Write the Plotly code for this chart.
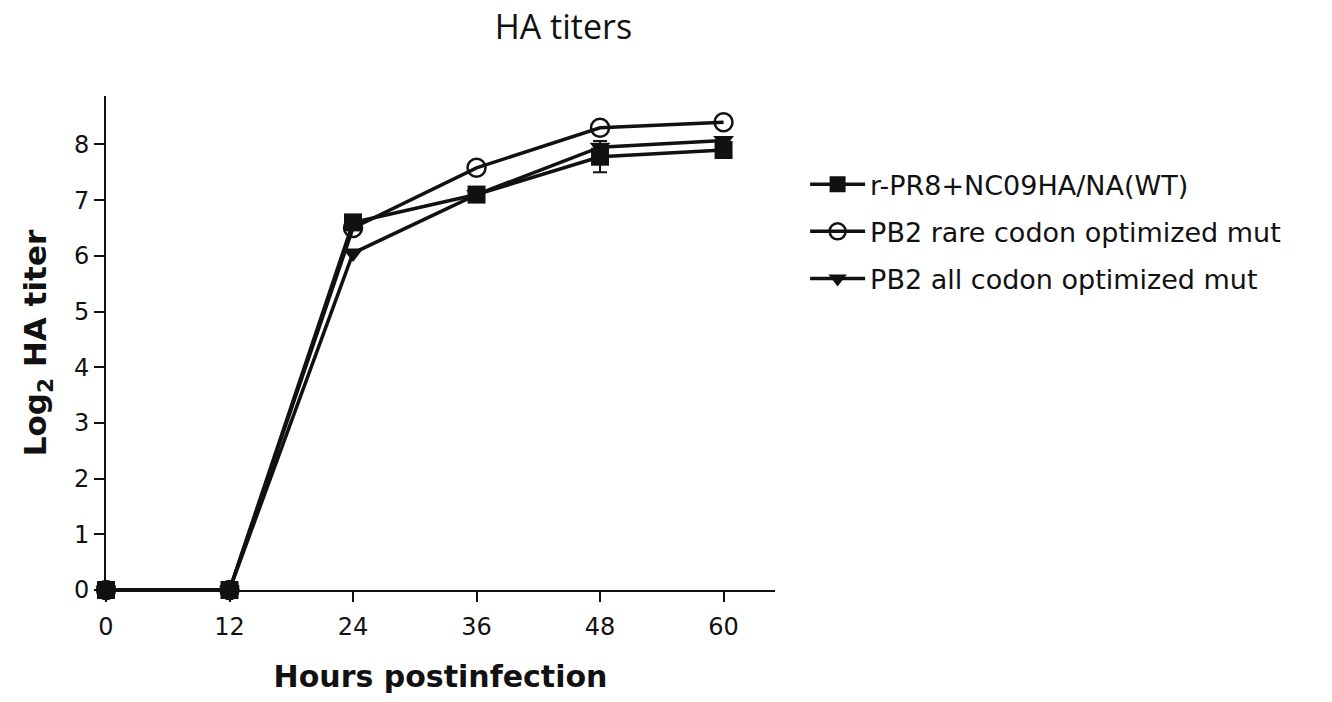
import plotly.graph_objects as go

hours = [0, 12, 24, 36, 48, 60]
wt = [0, 0, 6.6, 7.1, 7.78, 7.9]
wt_err = [0, 0, 0, 0, 0.28, 0]
rare = [0, 0, 6.5, 7.58, 8.3, 8.4]
allopt = [0, 0, 6.05, 7.1, 7.95, 8.07]

names = ["r-PR8+NC09HA/NA(WT)", "PB2 rare codon optimized mut", "PB2 all codon optimized mut"]
x_ticks = [0, 12, 24, 36, 48, 60]
y_ticks = [0, 1, 2, 3, 4, 5, 6, 7, 8]

INK = "#111111"
fig = go.Figure()
fig.add_trace(go.Scatter(
    x=hours, y=rare, name=names[1], mode="lines+markers", legendgroup="b", legendrank=2,
    line=dict(color=INK, width=3.5),
    marker=dict(symbol="circle-open", size=18, color=INK, line=dict(width=2.5)),
    cliponaxis=False))
fig.add_trace(go.Scatter(
    x=hours, y=allopt, name=names[2], mode="lines+markers", legendgroup="c", legendrank=3,
    line=dict(color=INK, width=3.5),
    marker=dict(symbol="triangle-down", size=18, color=INK),
    cliponaxis=False))
fig.add_trace(go.Scatter(
    x=hours, y=wt, name=names[0], mode="lines+markers", legendgroup="a", legendrank=1,
    error_y=dict(type="data", array=wt_err, color=INK, thickness=2, width=7),
    line=dict(color=INK, width=3.5),
    marker=dict(symbol="square", size=18, color=INK),
    cliponaxis=False))

fig.update_layout(
    width=1332, height=702,
    paper_bgcolor="white", plot_bgcolor="white",
    margin=dict(l=106, r=557, t=96, b=112),
    title=dict(text="HA titers", x=0.423, xanchor="center", y=0.962, yanchor="middle",
               font=dict(family="Open Sans", size=34, color=INK)),
    legend=dict(x=1.045, y=0.87, xanchor="left", yanchor="top",
                font=dict(family="DejaVu Sans", size=27, color=INK),
                traceorder="grouped", tracegroupgap=9, itemwidth=55,
                bgcolor="rgba(0,0,0,0)"),
    font=dict(family="DejaVu Sans", color=INK),
    showlegend=True,
)
fig.update_xaxes(
    range=[0, 65], tickvals=x_ticks, ticktext=[str(v) for v in x_ticks],
    showgrid=False, zeroline=False, showline=True, linecolor=INK, linewidth=2,
    ticks="outside", ticklen=10, tickwidth=2, tickcolor=INK, ticklabelstandoff=4,
    tickfont=dict(family="DejaVu Sans", size=24, color=INK),
    title=dict(text="Hours postinfection", standoff=26,
               font=dict(family="DejaVu Sans", size=30, color=INK, weight="bold")))
fig.update_yaxes(
    range=[0, 8.87], tickvals=y_ticks, ticktext=[str(v) for v in y_ticks],
    showgrid=False, zeroline=False, showline=True, linecolor=INK, linewidth=2,
    ticks="outside", ticklen=10, tickwidth=2, tickcolor=INK,
    tickfont=dict(family="DejaVu Sans", size=24, color=INK),
    title=dict(text="Log<sub>2</sub> HA titer", standoff=18,
               font=dict(family="DejaVu Sans", size=31, color=INK, weight="bold")))

fig.write_html("out.html")
